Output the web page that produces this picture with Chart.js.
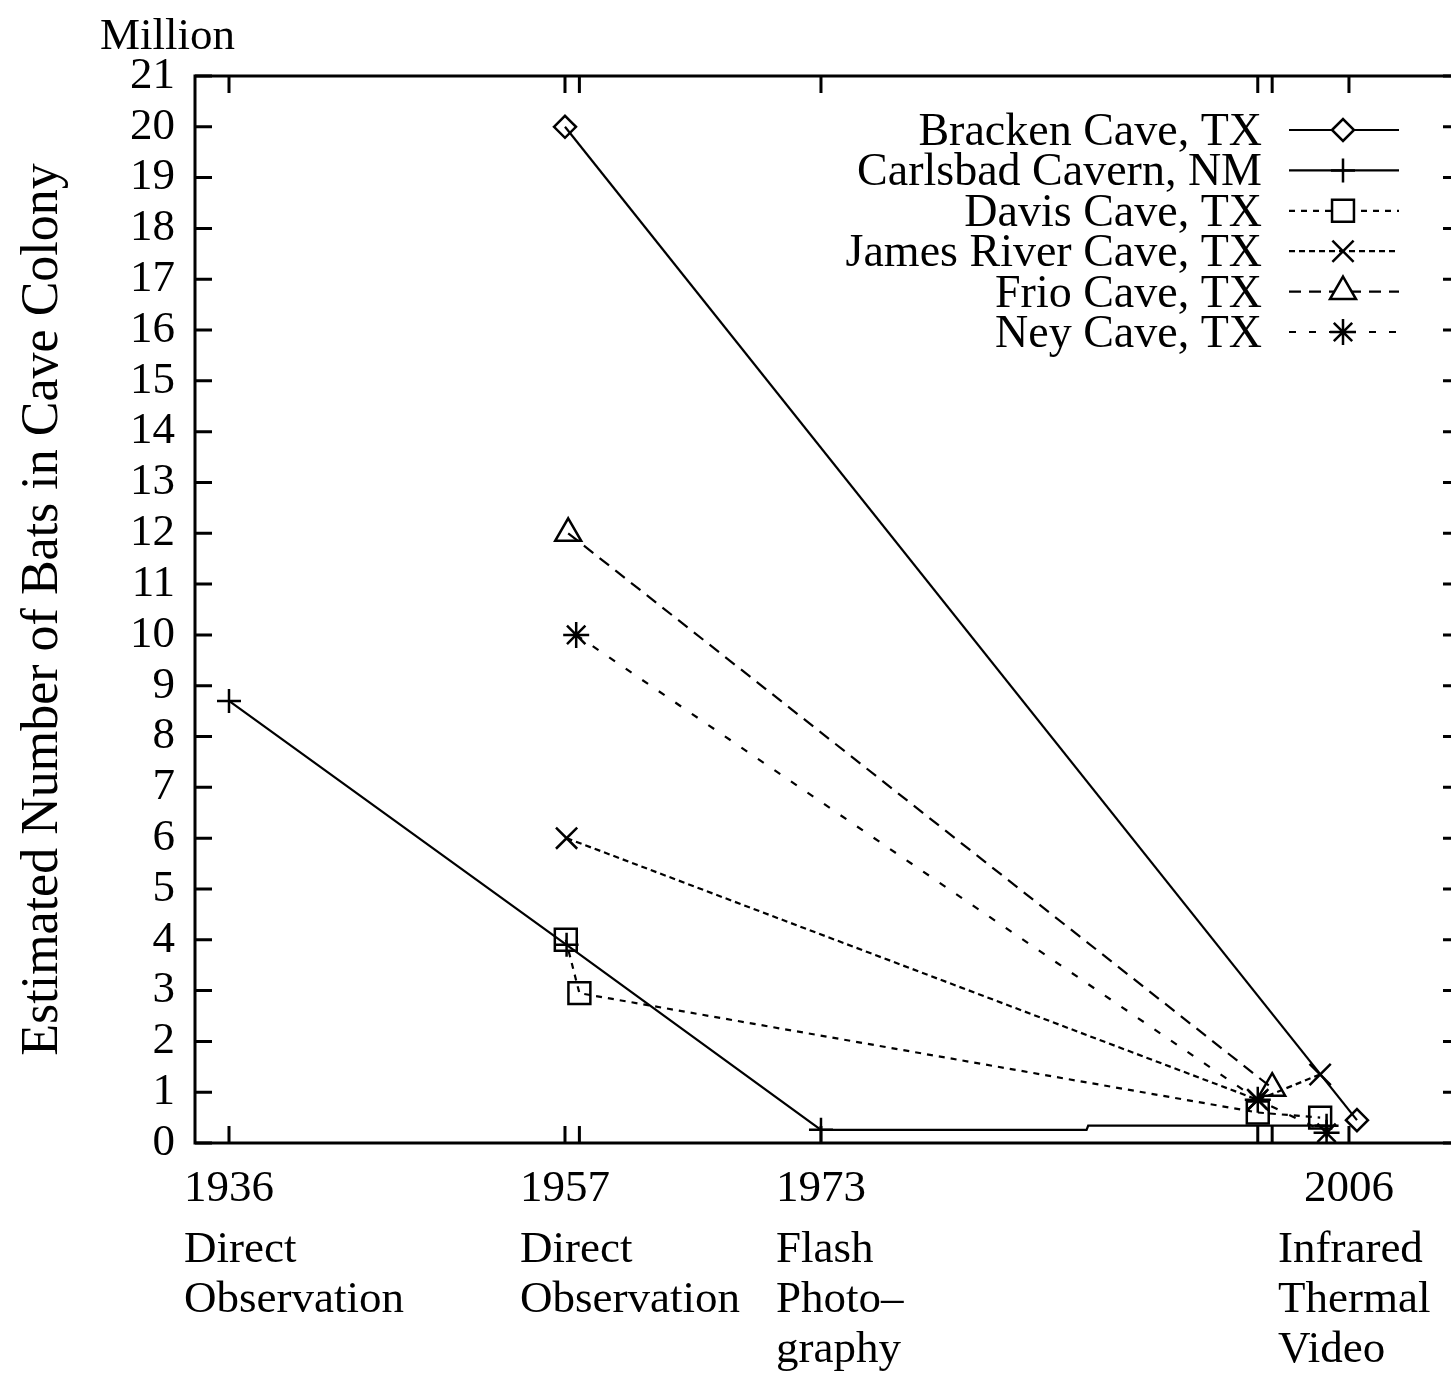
<!DOCTYPE html>
<html><head><meta charset="utf-8">
<script src="https://cdn.jsdelivr.net/npm/chart.js@4/dist/chart.umd.min.js"></script>
<style>
html,body{margin:0;padding:0;background:#fff;overflow:hidden;width:1451px;height:1375px}
#wrap{position:absolute;left:0;top:0;width:1560px;height:1375px}
</style></head><body>
<div id="wrap"><canvas id="c" width="1560" height="1375"></canvas></div>
<script>
// ---- data (years on x, million bats on y) ----
const seriesNames = ['Bracken Cave, TX','Carlsbad Cavern, NM','Davis Cave, TX','James River Cave, TX','Frio Cave, TX','Ney Cave, TX'];
const brackenYears = [1957, 2006.5];
const brackenValues = [20, 0.45];
const carlsbadYears = [1936, 1957.1, 1973, 1989.6, 1989.7, 2004.6];
const carlsbadValues = [8.7, 3.9, 0.26, 0.26, 0.34, 0.34];
const davisYears = [1957.05, 1957.9, 2000.3, 2004.2];
const davisValues = [4, 2.95, 0.6, 0.5];
const jamesYears = [1957.1, 2000.3, 2004.2];
const jamesValues = [6, 0.85, 1.35];
const frioYears = [1957.2, 2001.2];
const frioValues = [12, 1.08];
const neyYears = [1957.7, 2000.3, 2004.6];
const neyValues = [10, 0.85, 0.2];
const yearTicks = [1936, 1957, 1973, 2006];
const yearLabels = ['1936', '1957', '1973', '2006'];
const methodLabels = [['Direct','Observation'], ['Direct','Observation'], ['Flash','Photo\u2013','graphy'], ['Infrared','Thermal','Video']];
const extraYearTicks = [1957.9, 2000.3, 2001.2];
const yTickValues = [0,1,2,3,4,5,6,7,8,9,10,11,12,13,14,15,16,17,18,19,20,21];

const FONT = '"Liberation Serif", "DejaVu Serif", serif';
const pts = (xs, ys) => xs.map((x, i) => ({x, y: ys[i]}));

const styles = [
  {pointStyle:'rectRot', radius:11, dash:[]},
  {pointStyle:'cross', radius:12, dash:[]},
  {pointStyle:'rect', radius:15.5, dash:[6,6]},
  {pointStyle:'crossRot', radius:15, dash:[6,4]},
  {pointStyle:'triangle', radius:15, dash:[12,8]},
  {pointStyle:'star', radius:13, dash:[7,13]}
];
const seriesData = [
  pts(brackenYears, brackenValues),
  pts(carlsbadYears, carlsbadValues),
  pts(davisYears, davisValues),
  pts(jamesYears, jamesValues),
  pts(frioYears, frioValues),
  pts(neyYears, neyValues)
];

const datasets = seriesData.map((d, i) => ({
  label: seriesNames[i],
  data: d,
  borderColor: '#000',
  borderWidth: 2.2,
  borderDash: styles[i].dash,
  pointStyle: styles[i].pointStyle,
  pointRadius: (i === 1) ? (ctx => (ctx.dataIndex === 3 || ctx.dataIndex === 4) ? 0 : styles[i].radius) : styles[i].radius,
  pointBorderColor: '#000',
  pointBorderWidth: 2.5,
  pointBackgroundColor: 'rgba(0,0,0,0)',
  tension: 0,
  showLine: true,
  fill: false
}));

const allXTicks = yearTicks.concat(extraYearTicks);
const lastYear = yearTicks[yearTicks.length - 1];
const methodLabelFor = v => { const k = yearTicks.indexOf(v); return k >= 0 ? methodLabels[k] : ''; };

const frame = {
  id: 'frame',
  afterDatasetsDraw(chart) {
    const {ctx, chartArea: a, scales} = chart;
    ctx.save();
    ctx.strokeStyle = '#000';
    ctx.lineWidth = 3;
    ctx.strokeRect(a.left, a.top, a.right - a.left, a.bottom - a.top);
    const tl = 17;
    scales.x.ticks.forEach(t => {
      const px = scales.x.getPixelForValue(t.value);
      ctx.beginPath();
      ctx.moveTo(px, a.bottom); ctx.lineTo(px, a.bottom - tl);
      ctx.moveTo(px, a.top); ctx.lineTo(px, a.top + tl);
      ctx.stroke();
    });
    scales.y.ticks.forEach(t => {
      const py = scales.y.getPixelForValue(t.value);
      ctx.beginPath();
      ctx.moveTo(a.left, py); ctx.lineTo(a.left + tl, py);
      ctx.moveTo(a.right, py); ctx.lineTo(a.right - tl, py);
      ctx.stroke();
    });
    ctx.fillStyle = '#000';
    ctx.font = '45px ' + FONT;
    ctx.textAlign = 'left';
    ctx.textBaseline = 'alphabetic';
    ctx.fillText('Million', a.left - 95, a.top - 27);
    ctx.restore();
  },
  afterDraw(chart) {
    const {ctx} = chart;
    ctx.save();
    const textRight = 1262, lineL = 1289, lineR = 1399, mark = 1343;
    chart.data.datasets.forEach((ds, i) => {
      const y = 130 + i * 40.4;
      ctx.fillStyle = '#000';
      ctx.font = '46px ' + FONT;
      ctx.textAlign = 'right';
      ctx.textBaseline = 'alphabetic';
      ctx.fillText(ds.label, textRight, y + 15);
      ctx.strokeStyle = '#000';
      ctx.lineWidth = 2.2;
      ctx.setLineDash(styles[i].dash);
      ctx.beginPath(); ctx.moveTo(lineL, y); ctx.lineTo(lineR, y); ctx.stroke();
      ctx.setLineDash([]);
      ctx.fillStyle = '#fff';
      ctx.lineWidth = 2.5;
      Chart.helpers.drawPoint(ctx, {pointStyle: styles[i].pointStyle, radius: styles[i].radius, borderWidth: 2.5, rotation: 0}, mark, y);
    });
    ctx.restore();
  }
};

const XMIN = 1933.875, XMAX = 2012.94;

new Chart(document.getElementById('c'), {
  type: 'line',
  data: {datasets},
  options: {
    responsive: false,
    devicePixelRatio: 1,
    animation: false,
    layout: {padding: {left: 0, top: 76, right: 100, bottom: 0}},
    plugins: {legend: {display: false}, tooltip: {enabled: false}, title: {display: false}},
    scales: {
      x: {
        type: 'linear', position: 'bottom', weight: 0,
        min: XMIN, max: XMAX,
        afterBuildTicks: s => { s.ticks = allXTicks.map(v => ({value: v})); },
        afterFit: s => { s.height = 70; },
        grid: {display: false, drawTicks: false},
        border: {display: false},
        ticks: {
          autoSkip: false, maxRotation: 0, padding: 19, color: '#000',
          font: {family: FONT, size: 45},
          callback: v => { const k = yearTicks.indexOf(v); return k >= 0 ? yearLabels[k] : ''; }
        }
      },
      method: {
        type: 'linear', position: 'bottom', weight: 1, axis: 'x',
        min: XMIN, max: XMAX,
        afterBuildTicks: s => { s.ticks = yearTicks.filter(v => v !== lastYear).map(v => ({value: v})); },
        afterFit: s => { s.height = 162; },
        grid: {display: false, drawTicks: false},
        border: {display: false},
        ticks: {
          autoSkip: false, maxRotation: 0, padding: 12, color: '#000', align: 'start', labelOffset: -45,
          font: {family: FONT, size: 45, lineHeight: 1.111},
          callback: methodLabelFor
        }
      },
      methodLast: {
        type: 'linear', position: 'bottom', weight: -1, axis: 'x',
        min: XMIN, max: XMAX,
        afterBuildTicks: s => { s.ticks = [{value: lastYear}]; },
        afterFit: s => { s.height = 0; },
        grid: {display: false, drawTicks: false},
        border: {display: false},
        ticks: {
          autoSkip: false, maxRotation: 0, mirror: true, padding: -132, color: '#000', align: 'start', labelOffset: -71,
          font: {family: FONT, size: 45, lineHeight: 1.111},
          callback: methodLabelFor
        }
      },
      y: {
        type: 'linear', position: 'left', min: 0, max: 21,
        afterBuildTicks: s => { s.ticks = yTickValues.map(v => ({value: v})); },
        afterFit: s => { s.width = 195; },
        grid: {display: false, drawTicks: false},
        border: {display: false},
        ticks: {autoSkip: false, padding: 20, color: '#000', font: {family: FONT, size: 45}},
        title: {display: true, text: 'Estimated Number of Bats in Cave Colony', color: '#000',
          font: {family: FONT, size: 52}, padding: {top: 12, bottom: 0}}
      }
    }
  },
  plugins: [frame]
});
</script>
</body></html>
